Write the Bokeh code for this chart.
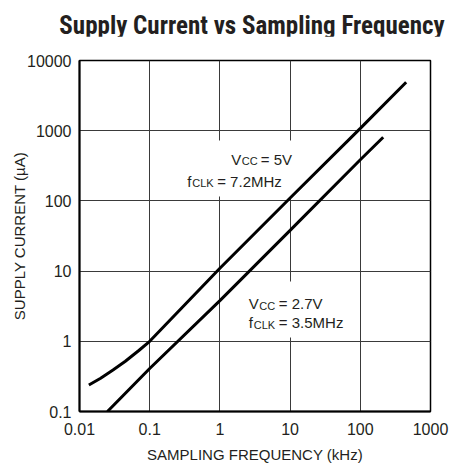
from bokeh.plotting import figure
from bokeh.layouts import column
from bokeh.models import Range1d, FixedTicker, Label, BoxAnnotation, Div
from bokeh.embed import file_html
from bokeh.resources import INLINE

# ---- data ----
freq_5v = [0.0136, 0.02, 0.03, 0.045, 0.07, 0.1, 1, 10, 100, 450]
curr_5v = [0.238, 0.298, 0.39, 0.52, 0.74, 1.0, 11, 110, 1080, 4900]

freq_27v = [0.025, 0.1, 1, 10, 100, 212]
curr_27v = [0.1, 0.41, 3.8, 38, 385, 807]

x_ticks = [0.01, 0.1, 1, 10, 100, 1000]
x_tick_labels = ["0.01", "0.1", "1", "10", "100", "1000"]
y_ticks = [0.1, 1, 10, 100, 1000, 10000]
y_tick_labels = ["0.1", "1", "10", "100", "1000", "10000"]

title_text = "Supply Current vs Sampling Frequency"
x_label = "SAMPLING FREQUENCY (kHz)"
y_label = "SUPPLY CURRENT (µA)"

TITLE_FONT = "Roboto Condensed"
FONT = "Liberation Sans"

title = Div(text=title_text, width=456, height=36, margin=(0, 0, 0, 0),
            styles={"font-family": TITLE_FONT, "font-size": "25px",
                    "font-weight": "bold", "color": "#231f20",
                    "line-height": "30px", "text-align": "center",
                    "text-indent": "48px", "padding-top": "11px",
                    "box-sizing": "border-box",
                    "white-space": "nowrap"})

p = figure(width=456, height=429, x_axis_type="log", y_axis_type="log",
           x_range=Range1d(0.01, 1000), y_range=Range1d(0.1, 10000),
           output_backend="svg", toolbar_location=None,
           min_border_left=79, min_border_right=26,
           min_border_top=24, min_border_bottom=54)
p.margin = (0, 0, 0, 0)

p.outline_line_color = "black"
p.outline_line_width = 1.5
p.background_fill_color = "white"
p.border_fill_color = "white"

for ax, ticks, labels in ((p.xaxis[0], x_ticks, x_tick_labels), (p.yaxis[0], y_ticks, y_tick_labels)):
    ax.ticker = FixedTicker(ticks=ticks)
    ax.major_label_overrides = {t: l for t, l in zip(ticks, labels)}
    ax.major_tick_out = 0
    ax.major_tick_in = 0
    ax.minor_tick_out = 0
    ax.minor_tick_in = 0
    ax.axis_line_color = "black"
    ax.axis_line_width = 2
    ax.major_label_text_font = FONT
    ax.major_label_text_font_size = "16px"
    ax.major_label_text_color = "#231f20"
    ax.axis_label_text_font = FONT
    ax.axis_label_text_font_size = "15px"
    ax.axis_label_text_font_style = "normal"
    ax.axis_label_text_color = "#231f20"

p.xaxis.axis_label = x_label
p.yaxis.axis_label = y_label
p.xaxis.major_label_standoff = 11
p.xaxis.axis_label_standoff = 8
p.yaxis.major_label_standoff = 8
p.yaxis.axis_label_standoff = -4

p.xgrid.ticker = FixedTicker(ticks=x_ticks)
p.ygrid.ticker = FixedTicker(ticks=y_ticks)
for g in (p.xgrid[0], p.ygrid[0]):
    g.grid_line_color = "#3a3a3a"
    g.grid_line_width = 1

# white boxes behind the annotations (interrupt the grid)
p.add_layout(BoxAnnotation(left=0.24, right=11.6, bottom=116, top=725,
                           fill_color="white", fill_alpha=1.0, line_alpha=0,
                           level="underlay"))
p.add_layout(BoxAnnotation(left=1.97, right=77, bottom=1.13, top=7.1,
                           fill_color="white", fill_alpha=1.0, line_alpha=0,
                           level="underlay"))

p.line(freq_5v, curr_5v, line_color="black", line_width=3)
p.line(freq_27v, curr_27v, line_color="black", line_width=3)


def lab(x, y, text, dx=0, dy=0, size="15px"):
    p.add_layout(Label(x=x, y=y, text=text, x_offset=dx, y_offset=dy,
                       text_font=FONT, text_font_size=size,
                       text_color="#231f20", text_baseline="alphabetic",
                       text_align="left"))


# annotation 1: VCC = 5V, fCLK = 7.2MHz
lab(1.45, 389, "V")
lab(1.45, 389, "CC", dx=10.5, dy=-2, size="11px")
lab(1.45, 389, "= 5V", dx=29.5)
lab(0.342, 191, "f")
lab(0.342, 191, "CLK", dx=5, dy=-2, size="11px")
lab(0.342, 191, "= 7.2MHz", dx=30)

# annotation 2: VCC = 2.7V, fCLK = 3.5MHz
lab(2.58, 3.42, "V")
lab(2.58, 3.42, "CC", dx=10.5, dy=-2, size="11px")
lab(2.58, 3.42, "= 2.7V", dx=30)
lab(2.58, 1.83, "f")
lab(2.58, 1.83, "CLK", dx=5, dy=-2, size="11px")
lab(2.58, 1.83, "= 3.5MHz", dx=30)

layout = column(title, p, spacing=0)
open("out.html", "w").write(file_html(layout, INLINE))
